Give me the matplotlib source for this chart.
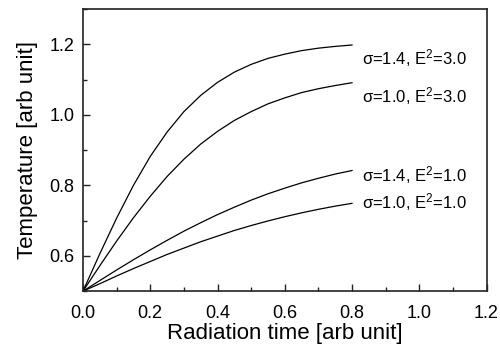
import matplotlib
matplotlib.use('Agg')
import matplotlib.pyplot as plt
from matplotlib.ticker import MultipleLocator

plt.rcParams['font.family'] = ['Liberation Sans', 'DejaVu Sans']
plt.rcParams['mathtext.default'] = 'regular'

# radiation time samples
time = [0.00, 0.05, 0.10, 0.15, 0.20, 0.25, 0.30, 0.35, 0.40,
        0.45, 0.50, 0.55, 0.60, 0.65, 0.70, 0.75, 0.80]

# temperature curves
temp_s14_e3 = [0.500, 0.606, 0.707, 0.800, 0.882, 0.951, 1.009, 1.055, 1.092,
               1.121, 1.143, 1.160, 1.172, 1.182, 1.189, 1.194, 1.198]
temp_s10_e3 = [0.500, 0.572, 0.642, 0.708, 0.769, 0.825, 0.874, 0.917, 0.953,
               0.984, 1.009, 1.031, 1.048, 1.063, 1.074, 1.083, 1.091]
temp_s14_e1 = [0.500, 0.530, 0.560, 0.589, 0.617, 0.644, 0.670, 0.694, 0.717,
               0.738, 0.758, 0.776, 0.792, 0.807, 0.820, 0.832, 0.842]
temp_s10_e1 = [0.500, 0.521, 0.543, 0.564, 0.584, 0.604, 0.622, 0.640, 0.656,
               0.672, 0.686, 0.699, 0.711, 0.722, 0.732, 0.741, 0.749]

curves = [temp_s14_e3, temp_s10_e3, temp_s14_e1, temp_s10_e1]
labels = ['σ=1.4, E$^{2}$=3.0', 'σ=1.0, E$^{2}$=3.0',
          'σ=1.4, E$^{2}$=1.0', 'σ=1.0, E$^{2}$=1.0']
label_y = [1.143, 1.035, 0.810, 0.735]

fig = plt.figure(figsize=(5.0, 3.47), dpi=100)
ax = fig.add_axes([0.166, 0.161, 0.807, 0.813])

for y, lab, ly in zip(curves, labels, label_y):
    ax.plot(time, y, color='black', linewidth=0.9)
    ax.text(0.83, ly, lab, fontsize=12, va='baseline', ha='left')

ax.set_xlim(0.0, 1.2)
ax.set_ylim(0.5, 1.3)
ax.xaxis.set_major_locator(MultipleLocator(0.2))
ax.xaxis.set_minor_locator(MultipleLocator(0.1))
ax.yaxis.set_minor_locator(MultipleLocator(0.1))
ax.set_yticks([0.6, 0.8, 1.0, 1.2])
ax.tick_params(which='both', direction='in', top=False, right=False,
               labelsize=13, width=1.0, color='#222222')
ax.tick_params(which='major', length=5)
ax.tick_params(which='minor', length=3)
ax.tick_params(axis='x', which='major', pad=10)
ax.tick_params(axis='y', which='major', pad=6)
ax.xaxis.set_major_formatter(plt.FormatStrFormatter('%.1f'))
ax.yaxis.set_major_formatter(plt.FormatStrFormatter('%.1f'))
for sp in ax.spines.values():
    sp.set_linewidth(1.2)
    sp.set_color('#222222')

ax.set_xlabel('Radiation time [arb unit]', fontsize=16, labelpad=1)
ax.set_ylabel('Temperature [arb unit]', fontsize=16, labelpad=8)

fig.savefig('out.png', dpi=100)
